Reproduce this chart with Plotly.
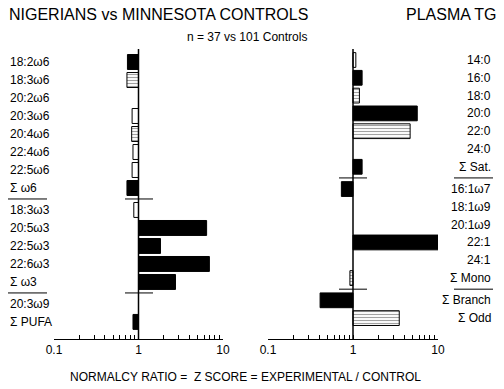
import plotly.graph_objects as go

# ---------------- data ----------------
left_labels = ["18:2ω6", "18:3ω6", "20:2ω6", "20:3ω6", "20:4ω6", "22:4ω6", "22:5ω6", "Σ ω6",
               "18:3ω3", "20:5ω3", "22:5ω3", "22:6ω3", "Σ ω3",
               "20:3ω9", "Σ PUFA"]
left_groups = [0, 0, 0, 0, 0, 0, 0, 0, 1, 1, 1, 1, 1, 2, 2]
left_ratio = [0.74, 0.73, 1.0, 0.84, 0.83, 0.86, 0.84, 0.73,
              0.88, 6.4, 1.82, 6.9, 2.74,
              1.0, 0.86]
left_fill = ["solid", "hatch", "none", "open", "hatch", "open", "open", "solid",
             "open", "solid", "solid", "solid", "solid",
             "none", "solid"]

right_labels = ["14:0", "16:0", "18:0", "20:0", "22:0", "24:0", "Σ Sat.",
                "16:1ω7", "18:1ω9", "20:1ω9", "22:1", "24:1", "Σ Mono",
                "Σ Branch", "Σ Odd"]
right_groups = [0, 0, 0, 0, 0, 0, 0, 1, 1, 1, 1, 1, 1, 2, 2]
right_ratio = [1.08, 1.28, 1.19, 5.7, 4.7, 1.0, 1.28,
               0.73, 1.0, 1.0, 10.7, 1.0, 0.92,
               0.41, 3.5]
right_fill = ["open", "solid", "hatch", "solid", "hatch", "none", "solid",
              "solid", "none", "none", "solid", "none", "hatch",
              "solid", "hatch"]

tick_vals = [0.1, 0.2, 0.3, 0.4, 0.5, 0.6, 0.7, 0.8, 0.9,
             1, 2, 3, 4, 5, 6, 7, 8, 9, 10]
tick_text = ["0.1"] + [""] * 8 + ["1"] + [""] * 8 + ["10"]

# ---------------- layout helpers ----------------
W, H = 504, 389
FONT = "Liberation Sans, Arial, Helvetica, sans-serif"


def px(x):
    return x / W


def py(y):
    return 1 - y / H


def positions(groups, gap):
    return [i + gap * g for i, g in enumerate(groups)]


def style_arrays(fills):
    colors, shapes, lw = [], [], []
    for f in fills:
        colors.append("black" if f == "solid" else "white")
        shapes.append("-" if f == "hatch" else "")
        lw.append(0 if f == "none" else 1)
    return colors, shapes, lw


left_gap, right_gap = 0.22, 0.25
left_pos = positions(left_groups, left_gap)
right_pos = positions(right_groups, right_gap)

fig = go.Figure()

for ratios, fills, pos, xa, ya, clip in [
    (left_ratio, left_fill, left_pos, "x", "y", True),
    (right_ratio, right_fill, right_pos, "x2", "y2", False),
]:
    colors, shapes, lw = style_arrays(fills)
    fig.add_trace(go.Bar(
        x=[r - 1 for r in ratios], y=pos, base=1, orientation="h",
        width=0.83, xaxis=xa, yaxis=ya, cliponaxis=clip,
        marker=dict(color=colors,
                    line=dict(color="black", width=lw),
                    pattern=dict(shape=shapes, fgcolor="black", bgcolor="white",
                                 size=3, solidity=0.38, fillmode="overlay")),
        showlegend=False, hoverinfo="skip",
    ))

ydom = [py(339), py(49)]
xaxis_common = dict(type="log", range=[-1, 1], showgrid=False, zeroline=False,
                    showline=True, linecolor="black", linewidth=1,
                    ticks="inside", ticklen=4, tickwidth=1, tickcolor="black",
                    tickmode="array", tickvals=tick_vals, ticktext=tick_text,
                    automargin=False,
                    tickfont=dict(family=FONT, size=12, color="black"))
yaxis_common = dict(showgrid=False, zeroline=False, showticklabels=False,
                    showline=False, ticks="", domain=ydom, automargin=False)

left_row0, left_step = 62, 18
right_row0, right_step = 60, 17.8

fig.update_layout(
    template="none",
    width=W, height=H, autosize=False,
    margin=dict(l=0, r=0, t=0, b=0, pad=0, autoexpand=False),
    paper_bgcolor="white", plot_bgcolor="rgba(0,0,0,0)",
    font=dict(family=FONT, color="black"),
    showlegend=False,
    bargap=0,
    xaxis=dict(domain=[px(54), px(223)], anchor="y", **xaxis_common),
    xaxis2=dict(domain=[px(268), px(438)], anchor="y2", **xaxis_common),
    yaxis=dict(anchor="x", range=[(339 - left_row0) / left_step, (49 - left_row0) / left_step],
               **yaxis_common),
    yaxis2=dict(anchor="x2", range=[(339 - right_row0) / right_step, (49 - right_row0) / right_step],
                **yaxis_common),
)

shapes = []
annotations = []

# vertical reference lines at ratio 1
for xr in ["x", "x2"]:
    shapes.append(dict(type="line", xref=xr, yref="paper", x0=1, x1=1,
                       y0=ydom[0], y1=ydom[1], line=dict(color="black", width=1.5)))


def separators(groups, pos, yref, axis_px, lab_x0, lab_x1):
    for i in range(1, len(groups)):
        if groups[i] != groups[i - 1]:
            ysep = (pos[i] + pos[i - 1]) / 2
            shapes.append(dict(type="line", xref="paper", yref=yref,
                               x0=px(axis_px - 14), x1=px(axis_px + 14), y0=ysep, y1=ysep,
                               line=dict(color="black", width=1)))
            shapes.append(dict(type="line", xref="paper", yref=yref,
                               x0=px(lab_x0), x1=px(lab_x1), y0=ysep, y1=ysep,
                               line=dict(color="black", width=1)))


separators(left_groups, left_pos, "y", 139, 8, 47)
separators(right_groups, right_pos, "y2", 353, 454, 493)

for lab, p in zip(left_labels, left_pos):
    annotations.append(dict(text=lab, xref="paper", yref="y", x=px(8), y=p,
                            xanchor="left", yanchor="middle", showarrow=False,
                            font=dict(size=12, family=FONT, color="black")))
for lab, p in zip(right_labels, right_pos):
    annotations.append(dict(text=lab, xref="paper", yref="y2", x=px(493), y=p,
                            xanchor="right", yanchor="middle", showarrow=False,
                            font=dict(size=12, family=FONT, color="black")))

annotations += [
    dict(text="NIGERIANS vs MINNESOTA CONTROLS", xref="paper", yref="paper",
         x=px(7), y=py(14), xanchor="left", yanchor="middle", showarrow=False,
         font=dict(size=16, family=FONT, color="black")),
    dict(text="PLASMA TG", xref="paper", yref="paper",
         x=px(498), y=py(14), xanchor="right", yanchor="middle", showarrow=False,
         font=dict(size=16, family=FONT, color="black")),
    dict(text="n = 37 vs 101 Controls", xref="paper", yref="paper",
         x=px(247), y=py(37), xanchor="center", yanchor="middle", showarrow=False,
         font=dict(size=12, family=FONT, color="black")),
    dict(text="NORMALCY RATIO = \u00a0Z SCORE = EXPERIMENTAL / CONTROL", xref="paper", yref="paper",
         x=px(245), y=py(377), xanchor="center", yanchor="middle", showarrow=False,
         font=dict(size=12, family=FONT, color="black")),
]

fig.update_layout(shapes=shapes, annotations=annotations)
fig.write_html("out.html",
               config={"displayModeBar": False, "staticPlot": True},
               post_script="document.body.style.margin='0';document.body.style.overflow='hidden';")
